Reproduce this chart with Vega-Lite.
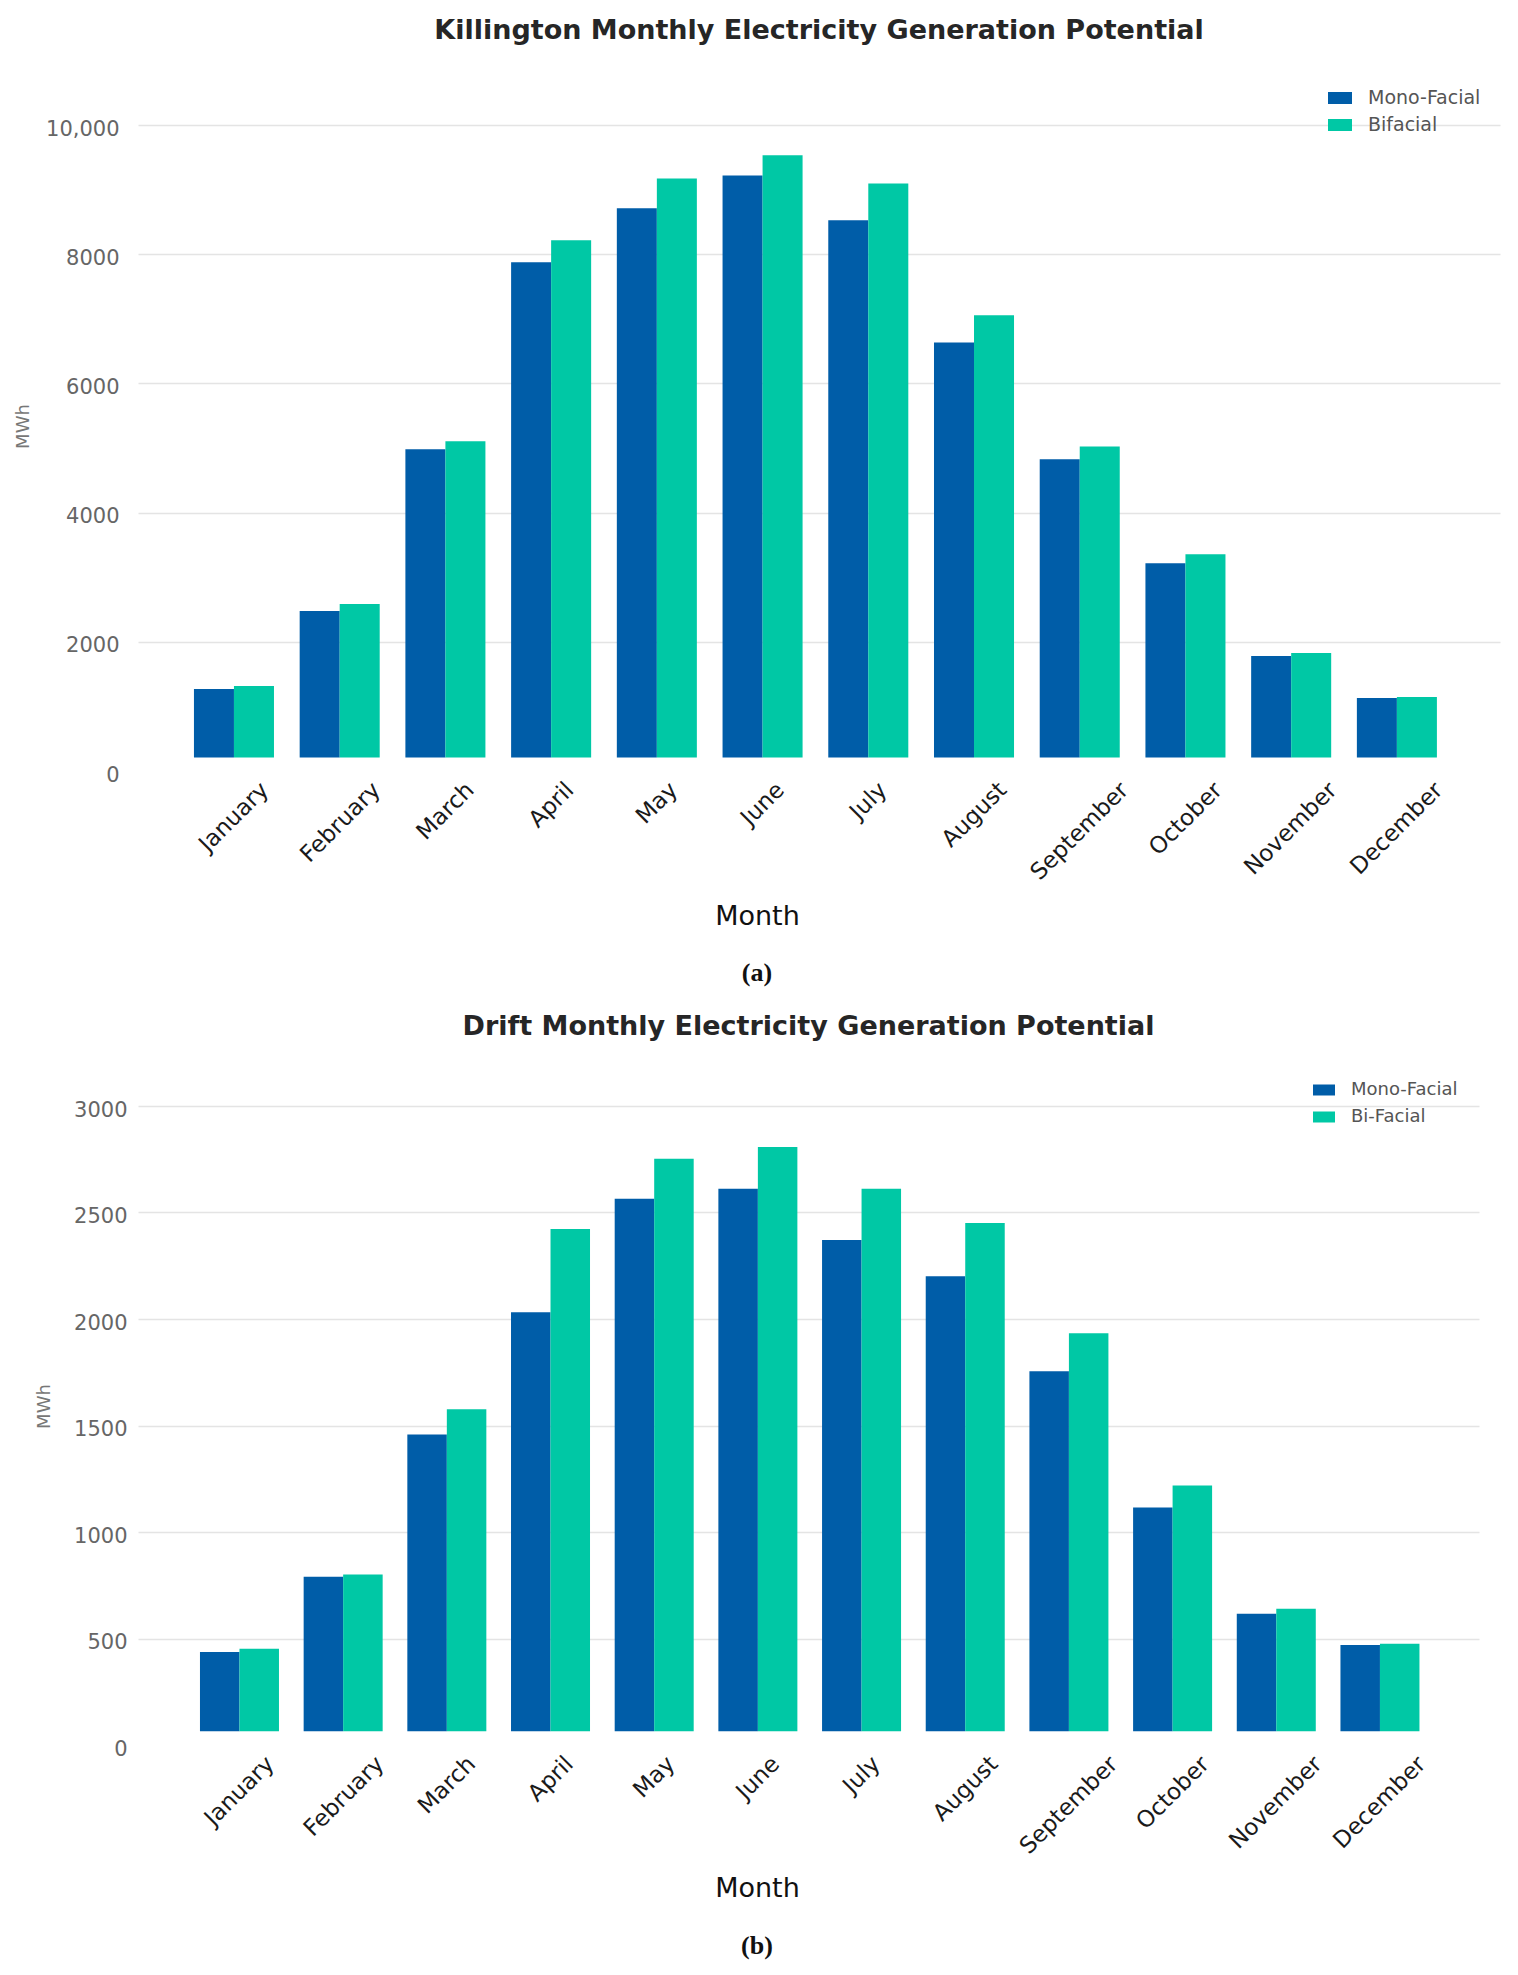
{
  "$schema": "https://vega.github.io/schema/vega-lite/v6.json",
  "background": "white",
  "padding": {"left": 14, "top": 17, "right": 10, "bottom": 10},
  "config": {
    "font": "DejaVu Sans",
    "view": {"stroke": null},
    "axis": {"domain": false, "ticks": false, "tickSize": 0},
    "axisY": {
      "labelFontSize": 21,
      "labelColor": "#666666",
      "labelPadding": 19,
      "labelOffset": 4,
      "gridColor": {"condition": {"test": "datum.value === 0", "value": "transparent"}, "value": "#e4e4e4"},
      "gridWidth": 1.5,
      "titleFontSize": 18,
      "titleFontWeight": "normal",
      "titleColor": "#777777",
      "titleAngle": 270,
      "titleAlign": "center",
      "titleBaseline": "middle"
    },
    "axisX": {
      "grid": false,
      "labelFontSize": 23,
      "labelColor": "#1a1a1a",
      "labelAngle": -45,
      "labelAlign": "right",
      "labelBaseline": "middle",
      "labelPadding": 15,
      "labelOffset": {"expr": "{'January':31,'February':37,'March':25,'April':19,'May':17,'June':18,'July':15,'August':29,'September':45,'October':33,'November':42,'December':42}[datum.label]"},
      "titleFontSize": 27,
      "titleFontWeight": "normal",
      "titleColor": "#111111",
      "titleAlign": "center",
      "titleBaseline": "middle"
    },
    "legend": {
      "orient": "none",
      "title": null,
      "padding": 0,
      "symbolType": "M-1,-0.5H1V0.5H-1Z",
      "symbolStrokeWidth": 0,
      "symbolOpacity": 1,
      "labelColor": "#555555",
      "labelOffset": 16
    },
    "title": {
      "font": "DejaVu Sans",
      "fontSize": 27,
      "fontWeight": "bold",
      "color": "#262626",
      "anchor": "middle",
      "frame": "group",
      "baseline": "bottom"
    }
  },
  "datasets": {
    "killington": [
      {"month": "January", "type": "Mono-Facial", "mwh": 1270},
      {"month": "January", "type": "Bifacial", "mwh": 1315},
      {"month": "February", "type": "Mono-Facial", "mwh": 2475},
      {"month": "February", "type": "Bifacial", "mwh": 2585},
      {"month": "March", "type": "Mono-Facial", "mwh": 4980},
      {"month": "March", "type": "Bifacial", "mwh": 5105},
      {"month": "April", "type": "Mono-Facial", "mwh": 7875},
      {"month": "April", "type": "Bifacial", "mwh": 8215},
      {"month": "May", "type": "Mono-Facial", "mwh": 8710},
      {"month": "May", "type": "Bifacial", "mwh": 9170},
      {"month": "June", "type": "Mono-Facial", "mwh": 9220},
      {"month": "June", "type": "Bifacial", "mwh": 9530},
      {"month": "July", "type": "Mono-Facial", "mwh": 8525},
      {"month": "July", "type": "Bifacial", "mwh": 9095},
      {"month": "August", "type": "Mono-Facial", "mwh": 6635},
      {"month": "August", "type": "Bifacial", "mwh": 7055},
      {"month": "September", "type": "Mono-Facial", "mwh": 4825},
      {"month": "September", "type": "Bifacial", "mwh": 5025},
      {"month": "October", "type": "Mono-Facial", "mwh": 3215},
      {"month": "October", "type": "Bifacial", "mwh": 3355},
      {"month": "November", "type": "Mono-Facial", "mwh": 1780},
      {"month": "November", "type": "Bifacial", "mwh": 1825},
      {"month": "December", "type": "Mono-Facial", "mwh": 1130},
      {"month": "December", "type": "Bifacial", "mwh": 1145}
    ],
    "drift": [
      {"month": "January", "type": "Mono-Facial", "mwh": 437},
      {"month": "January", "type": "Bi-Facial", "mwh": 452},
      {"month": "February", "type": "Mono-Facial", "mwh": 790},
      {"month": "February", "type": "Bi-Facial", "mwh": 800},
      {"month": "March", "type": "Mono-Facial", "mwh": 1458},
      {"month": "March", "type": "Bi-Facial", "mwh": 1576},
      {"month": "April", "type": "Mono-Facial", "mwh": 2032},
      {"month": "April", "type": "Bi-Facial", "mwh": 2423},
      {"month": "May", "type": "Mono-Facial", "mwh": 2564},
      {"month": "May", "type": "Bi-Facial", "mwh": 2752},
      {"month": "June", "type": "Mono-Facial", "mwh": 2611},
      {"month": "June", "type": "Bi-Facial", "mwh": 2808},
      {"month": "July", "type": "Mono-Facial", "mwh": 2371},
      {"month": "July", "type": "Bi-Facial", "mwh": 2611},
      {"month": "August", "type": "Mono-Facial", "mwh": 2201},
      {"month": "August", "type": "Bi-Facial", "mwh": 2451},
      {"month": "September", "type": "Mono-Facial", "mwh": 1755},
      {"month": "September", "type": "Bi-Facial", "mwh": 1933},
      {"month": "October", "type": "Mono-Facial", "mwh": 1115},
      {"month": "October", "type": "Bi-Facial", "mwh": 1218},
      {"month": "November", "type": "Mono-Facial", "mwh": 616},
      {"month": "November", "type": "Bi-Facial", "mwh": 640},
      {"month": "December", "type": "Mono-Facial", "mwh": 470},
      {"month": "December", "type": "Bi-Facial", "mwh": 475}
    ]
  },
  "resolve": {"scale": {"x": "independent", "y": "independent", "color": "independent", "xOffset": "independent"}, "legend": {"color": "independent"}},
  "spacing": 27,
  "vconcat": [
    {
      "title": {"text": "(a)", "orient": "bottom", "frame": "bounds", "baseline": "top", "offset": 31, "font": "Liberation Serif", "fontSize": 26, "fontWeight": "bold", "color": "#111111"},
      "vconcat": [
        {
          "width": 1362,
          "height": 646,
          "title": {"text": "Killington Monthly Electricity Generation Potential", "offset": 73},
          "data": {"name": "killington"},
          "mark": {"type": "bar"},
          "encoding": {
            "x": {
              "field": "month", "type": "nominal",
              "sort": ["January", "February", "March", "April", "May", "June", "July", "August", "September", "October", "November", "December"],
              "scale": {"paddingInner": 0.243, "paddingOuter": 0.563, "align": 0.47},
              "axis": {"title": "Month", "titleX": 619, "titleY": 145}
            },
            "xOffset": {"field": "type", "type": "nominal", "sort": ["Mono-Facial", "Bifacial"], "scale": {"paddingInner": 0, "paddingOuter": 0}},
            "y": {
              "field": "mwh", "type": "quantitative",
              "scale": {"domain": [0, 10000]},
              "axis": {
                "title": "MWh", "titleX": -115, "titleY": 301,
                "values": [0, 2000, 4000, 6000, 8000, 10000],
                "labelExpr": "datum.value >= 10000 ? format(datum.value, ',') : format(datum.value, 'd')"
              }
            },
            "y2": {"datum": 210},
            "color": {
              "field": "type", "type": "nominal",
              "scale": {"domain": ["Mono-Facial", "Bifacial"], "range": ["#005da8", "#00c8a5"]},
              "legend": {"legendX": 1190, "legendY": -39, "symbolSize": 576, "labelFontSize": 19, "rowPadding": 5}
            }
          }
        }
      ]
    },
    {
      "title": {"text": "(b)", "orient": "bottom", "frame": "bounds", "baseline": "top", "offset": 32, "font": "Liberation Serif", "fontSize": 26, "fontWeight": "bold", "color": "#111111"},
      "vconcat": [
        {
          "width": 1341,
          "height": 639,
          "title": {"text": "Drift Monthly Electricity Generation Potential", "offset": 58},
          "data": {"name": "drift"},
          "mark": {"type": "bar"},
          "encoding": {
            "x": {
              "field": "month", "type": "nominal",
              "sort": ["January", "February", "March", "April", "May", "June", "July", "August", "September", "October", "November", "December"],
              "scale": {"paddingInner": 0.238, "paddingOuter": 0.586, "align": 0.51},
              "axis": {"title": "Month", "titleX": 619, "titleY": 143}
            },
            "xOffset": {"field": "type", "type": "nominal", "sort": ["Mono-Facial", "Bi-Facial"], "scale": {"paddingInner": 0, "paddingOuter": 0}},
            "y": {
              "field": "mwh", "type": "quantitative",
              "scale": {"domain": [0, 3000]},
              "axis": {
                "title": "MWh", "titleX": -94, "titleY": 300,
                "labelPadding": 11,
                "values": [0, 500, 1000, 1500, 2000, 2500, 3000],
                "labelExpr": "format(datum.value, 'd')"
              }
            },
            "y2": {"datum": 65},
            "color": {
              "field": "type", "type": "nominal",
              "scale": {"domain": ["Mono-Facial", "Bi-Facial"], "range": ["#005da8", "#00c8a5"]},
              "legend": {"legendX": 1175, "legendY": -27, "symbolSize": 484, "labelFontSize": 18, "rowPadding": 7}
            }
          }
        }
      ]
    }
  ]
}
